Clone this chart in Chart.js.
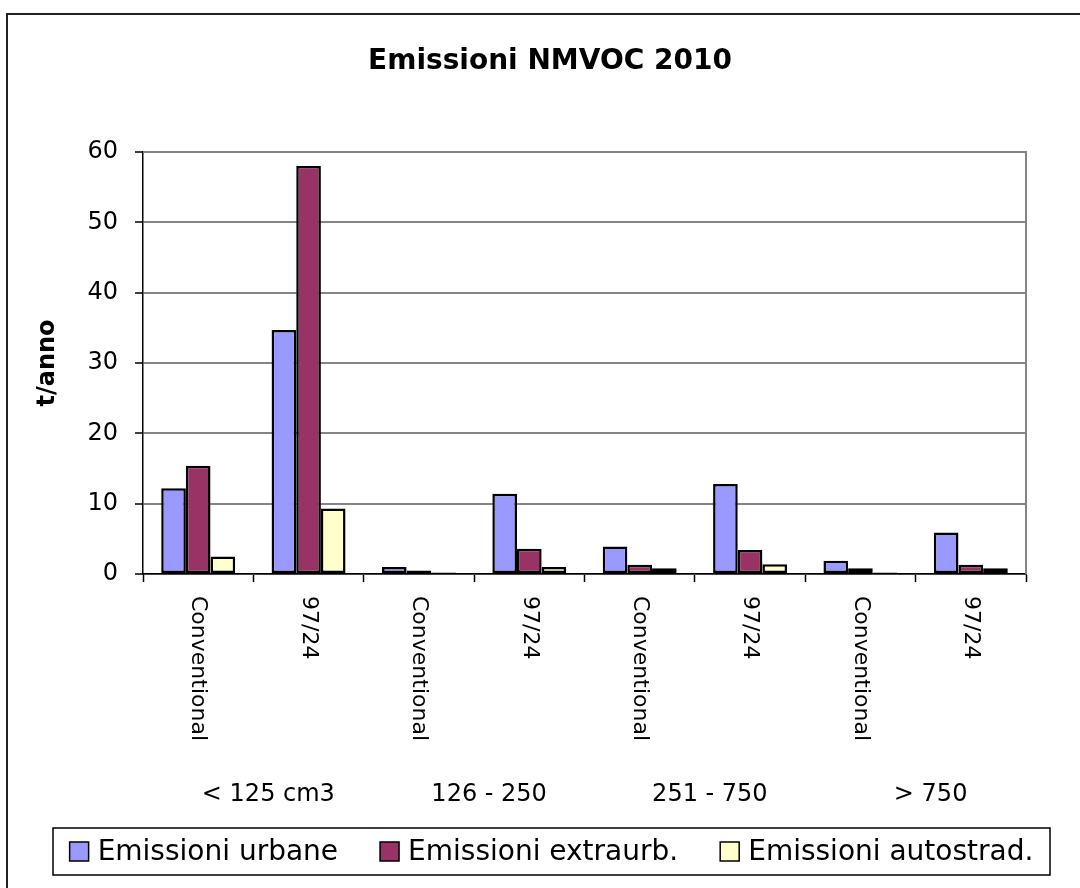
<!DOCTYPE html>
<html>
<head>
<meta charset="utf-8">
<script src="https://cdn.jsdelivr.net/npm/chart.js@4.4.0/dist/chart.umd.min.js"></script>
<style>
  html, body { margin: 0; padding: 0; background: #fff; }
  #wrap { width: 1080px; height: 888px; }
</style>
</head>
<body>
<div id="wrap"><canvas id="emChart" width="1080" height="888"></canvas></div>
<script>
// categories (x axis) and the size groups under them
var categories = ['Conventional', '97/24', 'Conventional', '97/24', 'Conventional', '97/24', 'Conventional', '97/24'];
var groups = ['< 125 cm3', '126 - 250', '251 - 750', '> 750'];
var chartTitle = 'Emissioni NMVOC 2010';

// series values, t/anno
var urbane = [12.2, 34.7, 1.0, 11.4, 3.9, 12.8, 1.9, 5.9];
var extraurb = [15.4, 58.0, 0.5, 3.6, 1.3, 3.4, 0.8, 1.3];
var autostrad = [2.5, 9.3, 0.2, 1.0, 0.8, 1.4, 0.2, 0.8];

var yTicks = [0, 10, 20, 30, 40, 50, 60];

var FONT = '"DejaVu Sans", sans-serif';

// frame, title, plot border, rotated labels, groups and legend
var extras = {
    id: 'extras',
    beforeDatasetsDraw: function (chart) {
        var ctx = chart.ctx, a = chart.chartArea;
        ctx.save();
        ctx.strokeStyle = '#858585';
        ctx.lineWidth = 2;
        ctx.beginPath();
        ctx.moveTo(a.left, a.top);
        ctx.lineTo(a.right, a.top);
        ctx.lineTo(a.right, a.bottom);
        ctx.stroke();
        ctx.restore();
    },
    afterDraw: function (chart) {
        var ctx = chart.ctx;
        var xs = chart.scales.x;
        ctx.save();

        // outer frame (top and left only are visible)
        ctx.strokeStyle = '#222';
        ctx.lineWidth = 2;
        ctx.strokeRect(7, 14, 1200, 1200);

        // title
        ctx.fillStyle = '#000';
        ctx.font = 'bold 28px ' + FONT;
        ctx.textAlign = 'center';
        ctx.textBaseline = 'middle';
        ctx.fillText(chartTitle, 550, 62);

        // category labels, reading top to bottom
        ctx.font = '22px ' + FONT;
        ctx.textAlign = 'left';
        categories.forEach(function (lab, i) {
            var x = xs.getPixelForValue(i);
            ctx.save();
            ctx.translate(x, 596);
            ctx.rotate(Math.PI / 2);
            ctx.fillText(lab, 0, 0);
            ctx.restore();
        });

        // size groups
        ctx.font = '24px ' + FONT;
        ctx.textAlign = 'center';
        groups.forEach(function (g, k) {
            var x = (xs.getPixelForValue(2 * k) + xs.getPixelForValue(2 * k + 1)) / 2 + 15;
            ctx.fillText(g, x, 795);
        });

        // legend
        var box = { left: 53, top: 828, right: 1050, bottom: 875 };
        ctx.strokeStyle = '#000';
        ctx.lineWidth = 1.5;
        ctx.strokeRect(box.left, box.top, box.right - box.left, box.bottom - box.top);
        ctx.font = '28px ' + FONT;
        ctx.textAlign = 'left';
        var sq = 19, gapText = 9, gapItem = 42;
        var ds = chart.data.datasets;
        var widths = ds.map(function (d) { return ctx.measureText(d.label).width; });
        var total = 0;
        widths.forEach(function (w) { total += sq + gapText + w; });
        total += gapItem * (ds.length - 1);
        var x = (box.left + box.right) / 2 - total / 2;
        var cy = (box.top + box.bottom) / 2;
        ds.forEach(function (d, i) {
            ctx.fillStyle = d.backgroundColor;
            ctx.fillRect(x, cy - sq / 2, sq, sq);
            ctx.strokeStyle = '#000';
            ctx.lineWidth = 1.5;
            ctx.strokeRect(x, cy - sq / 2, sq, sq);
            ctx.fillStyle = '#000';
            ctx.fillText(d.label, x + sq + gapText, cy + 1);
            x += sq + gapText + widths[i] + gapItem;
        });

        ctx.restore();
    }
};

var area = document.getElementById('emChart');

new Chart(area, {
    type: 'bar',
    data: {
        labels: categories,
        datasets: [{
            label: 'Emissioni urbane',
            data: urbane,
            backgroundColor: '#9999ff'
        }, {
            label: 'Emissioni extraurb.',
            data: extraurb,
            backgroundColor: '#993366'
        }, {
            label: 'Emissioni autostrad.',
            data: autostrad,
            backgroundColor: '#ffffcc'
        }]
    },
    options: {
        responsive: false,
        animation: false,
        layout: { padding: { left: 0, right: 54, top: 152, bottom: 0 } },
        datasets: {
            bar: {
                categoryPercentage: 0.67,
                barPercentage: 1.0,
                borderColor: '#000',
                borderWidth: 2.5,
                borderSkipped: false
            }
        },
        plugins: {
            legend: { display: false },
            tooltip: { enabled: false },
            title: { display: false }
        },
        scales: {
            x: {
                grid: {
                    display: true,
                    drawOnChartArea: false,
                    drawTicks: true,
                    tickLength: 8,
                    tickColor: '#000',
                    tickWidth: 1.5
                },
                border: { color: '#000', width: 1.5 },
                ticks: { display: false },
                afterFit: function (scale) { scale.height = 314; }
            },
            y: {
                min: 0,
                max: 60,
                afterBuildTicks: function (scale) {
                    scale.ticks = yTicks.map(function (v) { return { value: v }; });
                },
                grid: {
                    color: '#858585',
                    lineWidth: 2,
                    tickLength: 8,
                    tickColor: '#000',
                    tickWidth: 1.5
                },
                border: { color: '#000', width: 1.5 },
                ticks: {
                    color: '#000',
                    padding: 17,
                    font: { family: FONT, size: 24 }
                },
                title: {
                    display: true,
                    text: 't/anno',
                    color: '#000',
                    font: { family: FONT, size: 24, weight: 'bold', lineHeight: 1.2 },
                    padding: { top: 33, bottom: 0 }
                },
                afterFit: function (scale) { scale.width = 143; }
            }
        }
    },
    plugins: [extras]
});
</script>
</body>
</html>
